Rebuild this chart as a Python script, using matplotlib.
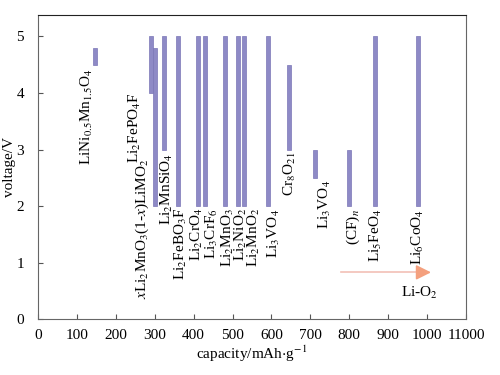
import matplotlib
matplotlib.use("Agg")
from matplotlib import pyplot as plt

# floating bars: capacity (mAh/g) and voltage window (V)
capacity = [147, 290, 300, 324, 360, 412, 430, 480, 515, 529, 591, 645, 712, 800, 865, 976]
v_low = [4.5, 4.0, 2.0, 3.0, 2.0, 2.0, 2.0, 2.0, 2.0, 2.0, 2.0, 3.0, 2.5, 2.0, 2.0, 2.0]
v_high = [4.8, 5.0, 4.8, 5.0, 5.0, 5.0, 5.0, 5.0, 5.0, 5.0, 5.0, 4.5, 3.0, 3.0, 5.0, 5.0]

# material labels (rotated), x in capacity units, top in volts
label_text = [
    r"LiNi$_{0.5}$Mn$_{1.5}$O$_4$",
    r"Li$_2$FePO$_4$F",
    r"$x$Li$_2$MnO$_3$(1-$x$)LiMO$_2$",
    r"Li$_2$MnSiO$_4$",
    r"Li$_2$FeBO$_3$F",
    r"Li$_2$CrO$_4$",
    r"Li$_3$CrF$_6$",
    r"Li$_2$MnO$_3$",
    r"Li$_2$NiO$_2$",
    r"Li$_2$MnO$_2$",
    r"Li$_3$VO$_4$",
    r"Cr$_8$O$_{21}$",
    r"Li$_3$VO$_4$",
    r"(CF)$_n$",
    r"Li$_5$FeO$_4$",
    r"Li$_6$CoO$_4$",
]
label_x = [126, 250, 267, 331, 368, 409, 447, 488, 522, 556, 606, 647, 737, 811, 868, 977]
label_top = [4.44, 4.02, 2.84, 2.95, 1.97, 1.97, 1.97, 1.97, 1.97, 1.97, 1.95, 2.96, 2.46, 1.95, 1.95, 1.95]

# Li-O2 arrow
arrow_x = [778, 985, 1010]
arrow_v = 0.83
lio2_x, lio2_v = 980, 0.47

xticks = list(range(0, 1101, 100))
xtick_labels = ["0", "100", "200", "300", "400", "500", "600", "700", "800", "900", "1000", "11000"]

plt.rcParams["font.family"] = ["Liberation Serif", "DejaVu Serif"]
plt.rcParams["mathtext.fontset"] = "stix"

fig = plt.figure(figsize=(5, 3.75), dpi=100)
ax = fig.add_axes([0.076, 0.1485, 0.856, 0.8115])

heights = [h - l for h, l in zip(v_high, v_low)]
ax.bar(capacity, heights, bottom=v_low, width=10, color="#8e8ac6",
       edgecolor="#7a76b6", linewidth=0.5)

for s, x, t in zip(label_text, label_x, label_top):
    ax.text(x, t, s, rotation=90, ha="center", va="top", fontsize=11)

ax.plot(arrow_x[:2], [arrow_v, arrow_v], color="#f2c0b6", lw=1.2)
ax.annotate("", xy=(arrow_x[2], arrow_v), xytext=(arrow_x[1], arrow_v),
            arrowprops=dict(arrowstyle="-|>,head_length=0.9,head_width=0.45",
                            color="#f4a07e", lw=1.2, shrinkA=0, shrinkB=0))
ax.text(lio2_x, lio2_v, r"Li-O$_2$", ha="center", va="center", fontsize=11)

ax.set_xlim(0, 1100)
ax.set_ylim(0, 5.38)
ax.set_xticks(xticks)
ax.set_xticklabels(xtick_labels)
ax.set_yticks([0, 1, 2, 3, 4, 5])
ax.tick_params(direction="in", length=3.5, labelsize=11, color="#555555", top=False, right=False)
ax.tick_params(axis="x", pad=7)
ax.tick_params(axis="y", pad=10)
for side in ["left", "bottom", "right"]:
    ax.spines[side].set_color("#666666")
ax.spines["top"].set_color("#222222")

ax.set_xlabel(r"capacity/mAh$\cdot$g$^{-1}$", fontsize=11, labelpad=1)
ax.set_ylabel("voltage/V", fontsize=11, labelpad=0)

plt.savefig("out.png", dpi=100)
